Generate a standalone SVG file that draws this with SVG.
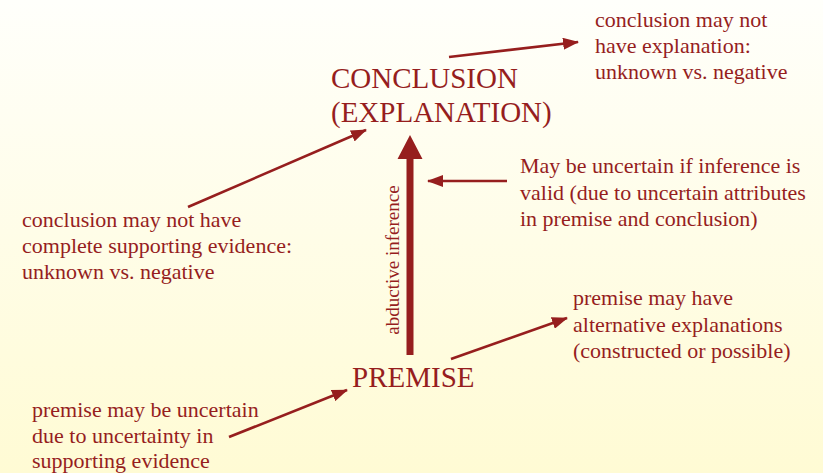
<svg xmlns="http://www.w3.org/2000/svg" width="823" height="473" viewBox="0 0 823 473">
<defs>
<linearGradient id="bg" x1="0" y1="0" x2="0" y2="1">
<stop offset="0" stop-color="#fffffb"/>
<stop offset="1" stop-color="#fffbd4"/>
</linearGradient>
<marker id="ah" markerUnits="userSpaceOnUse" markerWidth="16" markerHeight="12" refX="15" refY="6" orient="auto">
<path d="M0,0 L16,6 L0,12 z" fill="#961e1e"/>
</marker>
<style>
.t{font-family:"Liberation Serif","Times New Roman",serif;fill:#961e1e}
.big{font-size:29px}
.sm{font-size:22px}
.rot{font-size:19px}
.ln{stroke:#961e1e;stroke-width:2.6;fill:none;marker-end:url(#ah)}
</style>
</defs>
<rect width="823" height="473" fill="url(#bg)"/>
<g id="connectors">
<line class="ln" x1="449" y1="57" x2="578" y2="42"/>
<line class="ln" x1="188" y1="207" x2="366" y2="130"/>
<line class="ln" x1="507" y1="181" x2="428" y2="181"/>
<line class="ln" x1="451" y1="359" x2="567" y2="318"/>
<line class="ln" x1="229" y1="437" x2="347" y2="390"/>
<g id="abductive-arrow">
<polygon points="406.5,355 413.5,355 413.5,159 422.5,159 410,135 397.5,159 406.5,159" fill="#961e1e"/>
<text class="t rot" transform="translate(399,260) rotate(-90)" text-anchor="middle">abductive inference</text>
</g>
</g>
<g id="conclusion">
<text class="t big" x="331" y="88">CONCLUSION</text>
<text class="t big" x="331" y="122">(EXPLANATION)</text>
</g>
<g id="premise">
<text class="t big" x="352" y="387">PREMISE</text>
</g>
<g id="note-conclusion-explanation">
<text class="t sm" x="595" y="27">conclusion may not</text>
<text class="t sm" x="595" y="53">have explanation:</text>
<text class="t sm" x="595" y="79">unknown vs. negative</text>
</g>
<g id="note-inference">
<text class="t sm" x="520" y="173">May be uncertain if inference is</text>
<text class="t sm" x="520" y="200">valid (due to uncertain attributes</text>
<text class="t sm" x="520" y="226">in premise and conclusion)</text>
</g>
<g id="note-conclusion-evidence">
<text class="t sm" x="22" y="227">conclusion may not have</text>
<text class="t sm" x="22" y="253">complete supporting evidence:</text>
<text class="t sm" x="22" y="279">unknown vs. negative</text>
</g>
<g id="note-premise-alternatives">
<text class="t sm" x="573" y="305">premise may have</text>
<text class="t sm" x="573" y="332">alternative explanations</text>
<text class="t sm" x="573" y="358">(constructed or possible)</text>
</g>
<g id="note-premise-uncertain">
<text class="t sm" x="32" y="417">premise may be uncertain</text>
<text class="t sm" x="32" y="443">due to uncertainty in</text>
<text class="t sm" x="32" y="468">supporting evidence</text>
</g>
</svg>
